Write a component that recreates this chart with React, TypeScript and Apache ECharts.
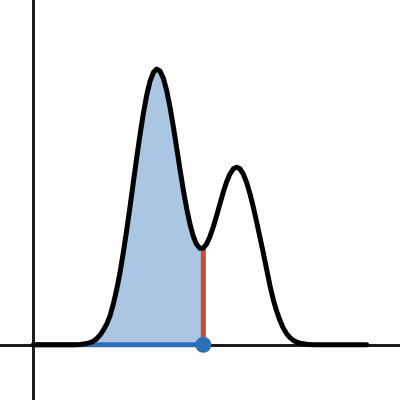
import React, { useEffect, useRef } from "react";
import * as echarts from "echarts";

// Curve sample positions (x) and heights (y)
const curveX = [
  0, 0.5, 1.0, 1.2, 1.4, 1.5, 1.6, 1.7, 1.8, 1.9, 2.0, 2.1, 2.2, 2.3, 2.4, 2.5, 2.6, 2.7, 2.8, 2.9,
  3.0, 3.1, 3.2, 3.3, 3.4, 3.5, 3.6, 3.7, 3.8, 3.9, 4.0, 4.1, 4.2, 4.3, 4.4, 4.5, 4.6, 4.7, 4.8, 4.9,
  5.0, 5.1, 5.2, 5.3, 5.4, 5.5, 5.6, 5.7, 5.8, 5.9, 6.0, 6.1, 6.2, 6.3, 6.4, 6.5, 6.6, 6.7, 6.8, 6.9,
  7.0, 7.1, 7.2, 7.3, 7.4, 7.5, 7.6, 7.7, 7.8, 7.9, 8.0, 8.2, 8.4, 9.0, 10.0,
];
const curveY = [
  0, 0, 0, 0.0005, 0.0015, 0.003, 0.005, 0.008, 0.013, 0.022, 0.035, 0.053, 0.075, 0.105, 0.148, 0.2, 0.262, 0.335, 0.415, 0.5,
  0.589, 0.677, 0.761, 0.838, 0.904, 0.955, 0.987, 1.0, 0.992, 0.967, 0.922, 0.862, 0.791, 0.714, 0.636, 0.561, 0.494, 0.437, 0.393, 0.364,
  0.35, 0.351, 0.366, 0.393, 0.428, 0.469, 0.512, 0.554, 0.591, 0.62, 0.638, 0.644, 0.638, 0.619, 0.588, 0.547, 0.499, 0.445, 0.389, 0.333,
  0.273, 0.214, 0.163, 0.122, 0.088, 0.06, 0.04, 0.026, 0.016, 0.01, 0.006, 0.002, 0, 0, 0,
];
// The marked point on the x axis
const cutX = 5.1;
const cutY = 0.351;

export default function App() {
  const ref = useRef<HTMLDivElement>(null);
  useEffect(() => {
    if (!ref.current) return;
    const chart = echarts.init(ref.current, null, { renderer: "svg" });
    const curve = curveX.map((x, i) => [x, curveY[i]]);
    const shaded = curve.filter((p) => p[0] <= cutX);
    chart.setOption({
      animation: false,
      grid: { left: 0, right: 0, top: 0, bottom: 0 },
      xAxis: {
        type: "value",
        min: -1,
        max: 11,
        axisLine: { show: true, onZero: true, lineStyle: { color: "#1c1c1c", width: 3 } },
        axisTick: { show: false },
        axisLabel: { show: false },
        splitLine: { show: false },
      },
      yAxis: {
        type: "value",
        min: -0.2,
        max: 1.25,
        axisLine: { show: true, onZero: true, lineStyle: { color: "#1c1c1c", width: 3 } },
        axisTick: { show: false },
        axisLabel: { show: false },
        splitLine: { show: false },
      },
      series: [
        {
          type: "line",
          data: shaded,
          showSymbol: false,
          lineStyle: { width: 0 },
          areaStyle: { color: "#aac6e3", opacity: 1 },
          z: 1,
        },
        {
          type: "line",
          data: [[0, 0], [cutX, 0]],
          showSymbol: false,
          lineStyle: { color: "#2e6fb7", width: 5 },
          z: 2,
        },
        {
          type: "line",
          data: [[cutX, 0], [cutX, cutY]],
          showSymbol: false,
          lineStyle: { color: "#cc4640", width: 5 },
          z: 3,
        },
        {
          type: "line",
          data: curve,
          showSymbol: false,
          lineStyle: { color: "#000000", width: 5, cap: "round", join: "round" },
          z: 4,
        },
        {
          type: "scatter",
          data: [[cutX, 0]],
          symbolSize: 16,
          itemStyle: { color: "#2e6fb7", opacity: 1 },
          z: 5,
        },
      ],
    });
    return () => chart.dispose();
  }, []);
  return <div ref={ref} style={{ position: "fixed", left: 0, top: 0, width: 400, height: 400 }} />;
}
